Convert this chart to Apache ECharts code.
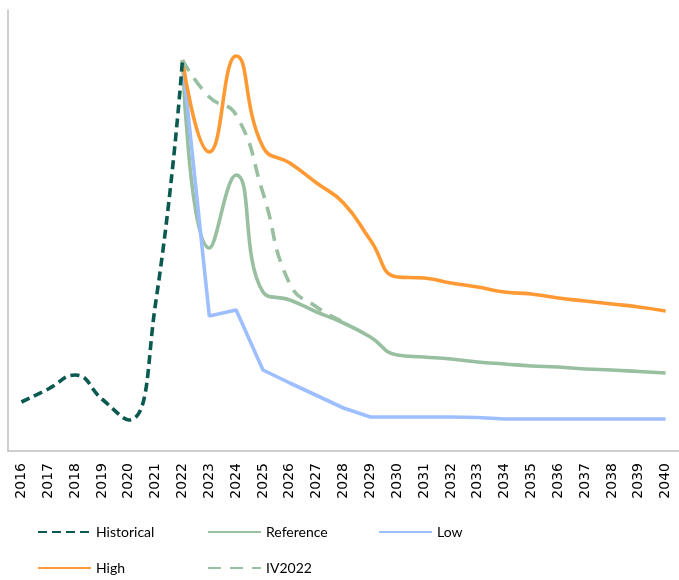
<!DOCTYPE html>
<html>
<head>
<meta charset="utf-8">
<script src="https://cdn.jsdelivr.net/npm/echarts@6/dist/echarts.min.js"></script>
<style>
html,body{margin:0;padding:0;background:#fff;}
#chart{width:679px;height:580px;}
</style>
</head>
<body>
<div id="chart"></div>
<script>
// Categories (years)
const years = ['2016','2017','2018','2019','2020','2021','2022','2023','2024','2025','2026','2027','2028','2029','2030','2031','2032','2033','2034','2035','2036','2037','2038','2039','2040'];
// Historical: 2016-2022 (arbitrary units)
const historical = [49, 62, 76, 52, 31, 148, 391];
// Projections: 2022-2040
const reference = [391, 203, 276, 159, 151, 139, 128, 114, 96, 94, 92, 89, 87, 85, 84, 82, 81, 79.5, 78];
const low       = [391, 135, 141, 81, 68, 55.5, 43, 34, 34, 34, 34, 33.5, 32, 32, 32, 32, 32, 32, 32];
const high      = [391, 299, 395, 304, 288, 268, 248, 211, 174, 173, 168, 164, 159, 157, 153, 150, 147, 144, 140];
// IV2022: 2022-2028
const iv2022    = [391, 354, 336, 258, 167, 144, 129];

const histStart = 0;   // index of 2016
const projStart = 6;   // index of 2022
function pad(arr, start) {
  const out = years.map(() => null);
  arr.forEach((v, i) => { out[start + i] = v; });
  return out;
}

const chart = echarts.init(document.getElementById('chart'));
const legendText = {fontFamily: 'Lato', fontSize: 14, color: '#000'};
function lg(name, left, top) {
  return {data: [name], left: left, top: top, itemWidth: 53, itemHeight: 14, itemGap: 5,
          padding: 0, textStyle: legendText, selectedMode: false,
          itemStyle: {opacity: 0, borderWidth: 0}};
}
const W = 3.6;
chart.setOption({
  animation: false,
  grid: {left: 8, right: -5, top: 10, bottom: 129, containLabel: false},
  legend: [
    lg('Historical', 37, 525),
    lg('Reference', 207, 525),
    lg('Low', 378, 525),
    lg('High', 37, 561),
    lg('IV2022', 207, 561)
  ],
  xAxis: {
    type: 'category', data: years, boundaryGap: true,
    axisLine: {lineStyle: {color: '#bfbfbf', width: 1.5}},
    axisTick: {show: false},
    axisLabel: {rotate: 90, margin: 12, color: '#000', fontFamily: 'DejaVu Sans', fontSize: 14, interval: 0}
  },
  yAxis: {
    type: 'value', min: 0, max: 441,
    axisLine: {show: true, lineStyle: {color: '#bfbfbf', width: 1.5}},
    axisTick: {show: false}, axisLabel: {show: false}, splitLine: {show: false}
  },
  series: [
    {name: 'Reference', type: 'line', data: pad(reference, projStart), smooth: 0.5, symbol: 'none',
     lineStyle: {color: '#98bf9f', width: W}, itemStyle: {color: '#98bf9f'}},
    {name: 'Low', type: 'line', data: pad(low, projStart), smooth: false, symbol: 'none',
     lineStyle: {color: '#9dbfff', width: W}, itemStyle: {color: '#9dbfff'}},
    {name: 'High', type: 'line', data: pad(high, projStart), smooth: 0.5, symbol: 'none',
     lineStyle: {color: '#ff9933', width: W}, itemStyle: {color: '#ff9933'}},
    {name: 'IV2022', type: 'line', data: pad(iv2022, projStart), smooth: 0.5, symbol: 'none',
     lineStyle: {color: '#98bf9f', width: W, type: [13, 9]}, itemStyle: {color: '#98bf9f'}},
    {name: 'Historical', type: 'line', data: pad(historical, histStart), smooth: 0.5, symbol: 'none',
     lineStyle: {color: '#0b5a50', width: W, type: [9, 5]}, itemStyle: {color: '#0b5a50'}}
  ]
});
</script>
</body>
</html>
